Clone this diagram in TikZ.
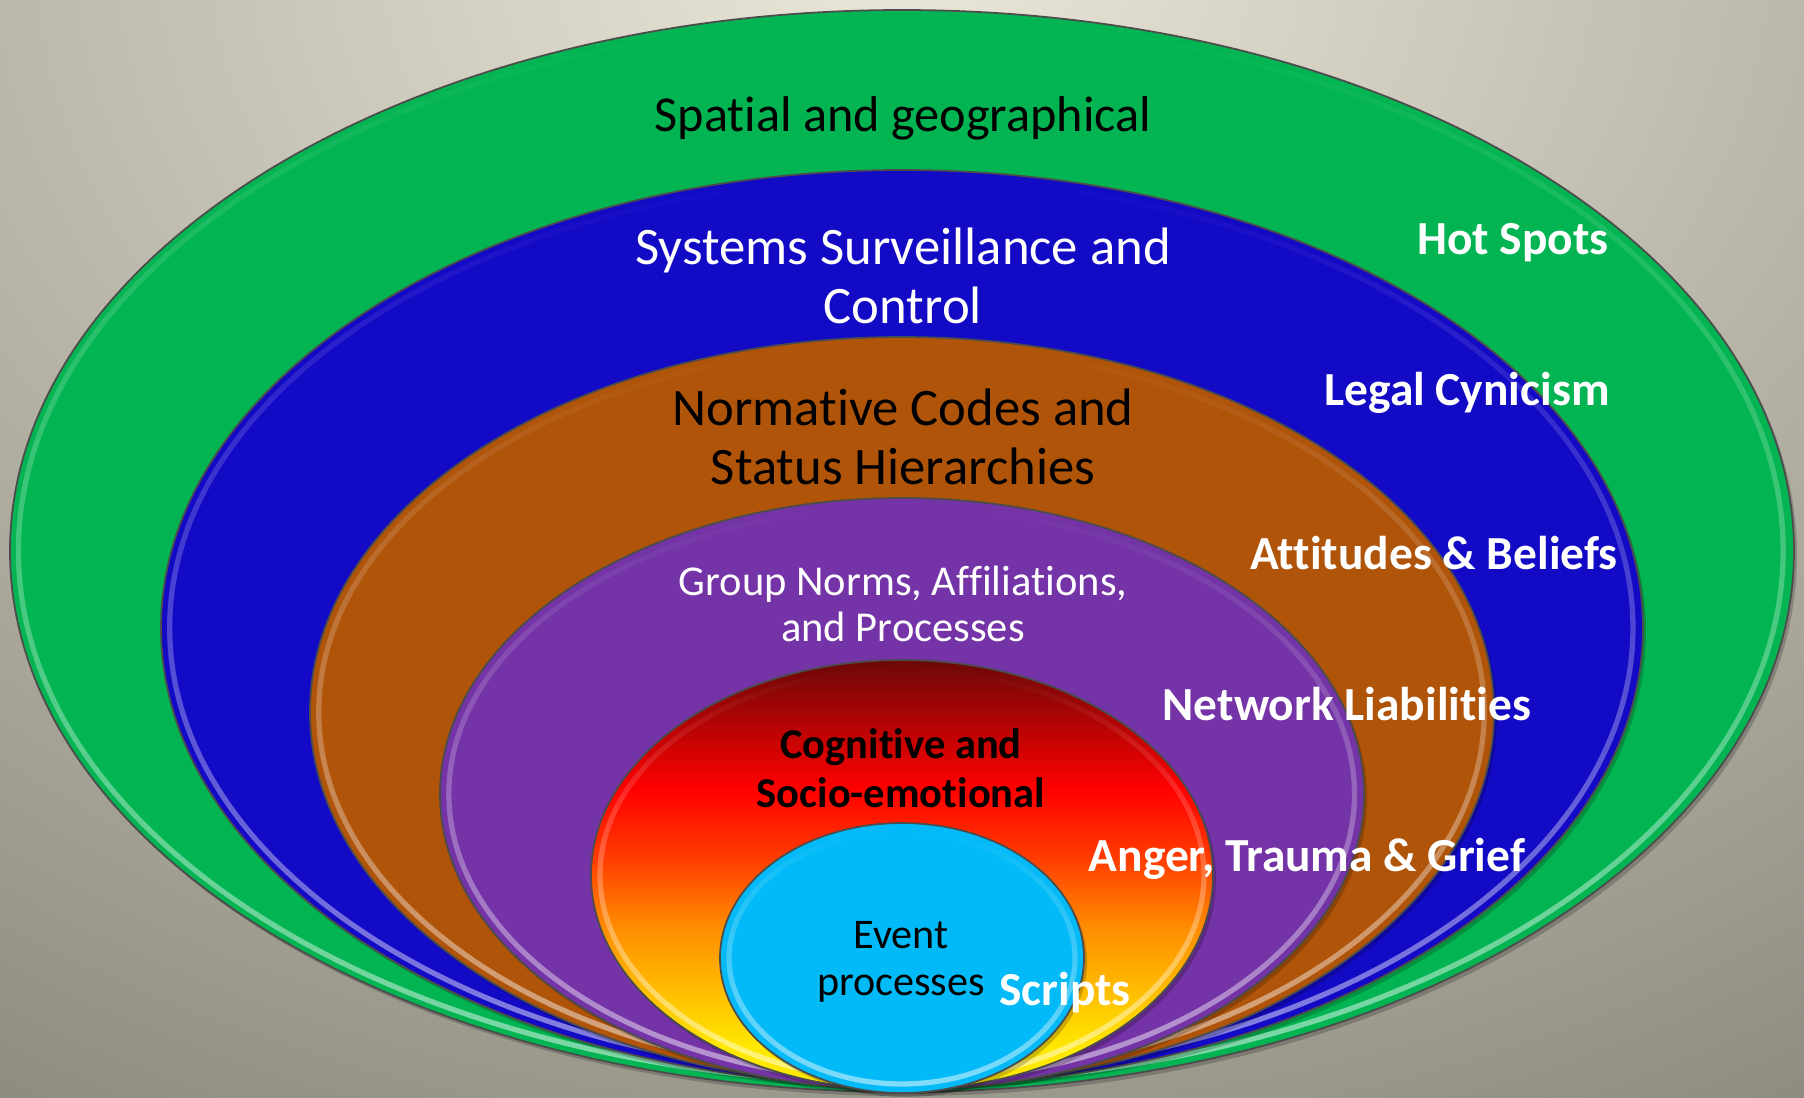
\documentclass[tikz,border=0pt]{standalone}
\usepackage{fontspec}
\setmainfont{Carlito}[Ligatures=NoCommon]
\usetikzlibrary{positioning, fadings}

\definecolor{bgtop}{HTML}{EBE8DA}
\definecolor{bgedge}{HTML}{7C796E}
\definecolor{ringgreen}{HTML}{03B552}
\definecolor{ringblue}{HTML}{130AC6}
\definecolor{ringbrown}{HTML}{B0540A}
\definecolor{ringpurple}{HTML}{7433A6}
\definecolor{ringcyan}{HTML}{02BAF7}
\definecolor{fyellow}{HTML}{FFE800}
\definecolor{forange}{HTML}{FF8C00}
\definecolor{forangered}{HTML}{FF3C00}
\definecolor{fred}{HTML}{FF0000}
\definecolor{fdark}{HTML}{6B0808}

% red core: dark red on top, yellow at the bottom
\pgfdeclareverticalshading{fiery}{100bp}{color(0bp)=(fyellow); color(30bp)=(fyellow);
  color(44bp)=(forange); color(52bp)=(forangered); color(60bp)=(fred);
  color(75bp)=(fdark); color(100bp)=(fdark)}

% bevel highlight fades out towards the top of each ring
\tikzfading[name=rimfade, top color=transparent!100, middle color=transparent!15,
  bottom color=transparent!0]

\begin{document}
\begin{tikzpicture}[
    x=0.1mm, y=-0.1mm,
    every node/.style={align=center, inner sep=0pt},
    green ring/.style={fill=ringgreen},
    blue ring/.style={fill=ringblue},
    brown ring/.style={fill=ringbrown},
    purple ring/.style={fill=ringpurple},
    fire ring/.style={shade, shading=fiery},
    cyan ring/.style={fill=ringcyan},
    rim/.style={draw=white, draw opacity=0.5, line width=1.5pt, path fading=rimfade},
    title/.style={font=\fontsize{15}{16.6}\selectfont},
    tag/.style={text=white, font=\bfseries\fontsize{13.5}{15}\selectfont},
]

% Background
\useasboundingbox (0,0) rectangle (1804,1098);
\begin{scope}
    \clip (0,0) rectangle (1804,1098);
    \shade[inner color=bgtop, outer color=bgedge] (902,-50) ellipse [x radius=2100, y radius=1600];
\end{scope}

% Nested rings, outermost first
\foreach \cy/\rx/\ry/\paint in {551/892/541/green, 628/741/458/blue, 712/592/375/brown,
                                794/462/296/purple, 875/311/215/fire, 958/182/135/cyan} {
    \fill[black, opacity=0.2] (905,\cy+4) ellipse [x radius=\rx, y radius=\ry];
    \path[\paint\space ring, draw=black!70, line width=0.5pt] (902,\cy) ellipse [x radius=\rx, y radius=\ry];
    \draw[rim] (902,\cy) ellipse [x radius=\rx-9, y radius=\ry-9];
}

% Ring titles
\node[font=\fontsize{14.3}{16}\selectfont, text=black] (spatial) at (903,118) {Spatial and geographical};
\node[title, text=white] (systems) at (903,276) {Systems Surveillance and\\Control};
\node[title, text=black] (normative) at (903,437) {Normative Codes and\\Status Hierarchies};
\node[font=\fontsize{12.1}{13.3}\selectfont, text=white] (group) at (903,604) {Group Norms, Affiliations,\\and Processes};
\node[font=\bfseries\fontsize{12.1}{13.8}\selectfont, text=black] (cognitive) at (901,768) {Cognitive and\\Socio-emotional};
\node[font=\fontsize{12}{13.5}\selectfont, text=black] (event) at (901,962) {Event\\processes};

% Labels on the right
\node[tag] (hotspots) at (1513,243) {Hot Spots};
\node[tag] (cynicism) at (1467,393) {Legal Cynicism};
\node[tag] (beliefs) at (1434,553) {Attitudes \& Beliefs};
\node[tag] (network) at (1347,704) {Network Liabilities};
\node[tag] (anger) at (1307,859) {Anger, Trauma \& Grief};
\node[tag] (scripts) at (1065,993) {Scripts};

\end{tikzpicture}
\end{document}
